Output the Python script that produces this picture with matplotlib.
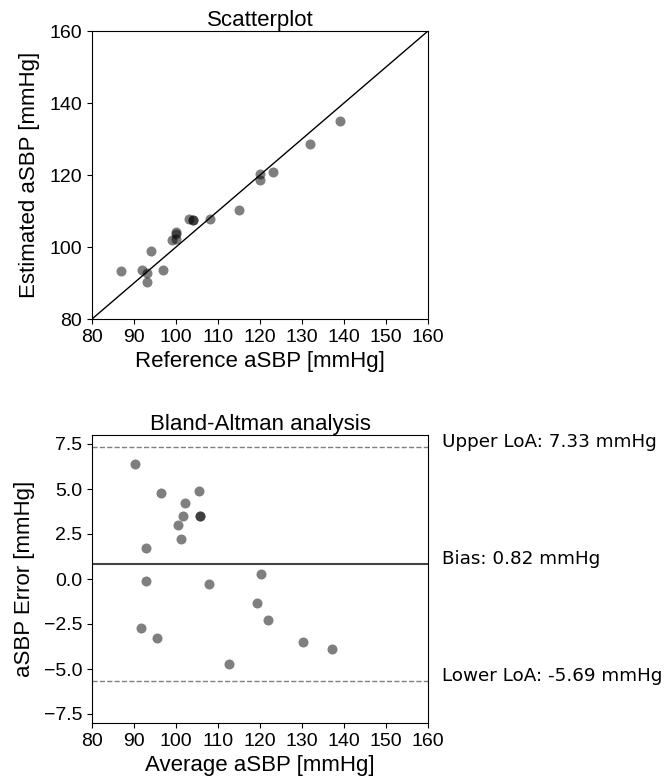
import numpy as np
import matplotlib
matplotlib.use("Agg")
import matplotlib.pyplot as plt

# reference vs estimated aortic SBP (mmHg), read off the scatterplot
REF = [87, 92, 93, 93, 94, 97, 99, 100, 100, 100,
       103, 104, 104, 108, 115, 120, 120, 123, 132, 139]
EST = [93.4, 93.7, 92.9, 90.3, 98.8, 93.75, 102.0, 102.2, 103.5, 104.2,
       107.9, 107.5, 107.5, 107.7, 110.3, 120.3, 118.65, 120.7, 128.5, 135.1]

BIAS = 0.82
UPPER_LOA = 7.33
LOWER_LOA = -5.69

XTICKS = [80, 90, 100, 110, 120, 130, 140, 150, 160]
YTICKS_TOP = [80, 100, 120, 140, 160]
YTICKS_BA = [-7.5, -5.0, -2.5, 0.0, 2.5, 5.0, 7.5]

plt.rcParams["font.family"] = ["Liberation Sans", "DejaVu Sans"]

W, H = 668, 778
fig = plt.figure(figsize=(W / 100, H / 100), dpi=100)


def px_axes(left, top, right, bottom):
    return fig.add_axes([left / W, 1 - bottom / H, (right - left) / W, (bottom - top) / H])


ref = np.array(REF)
est = np.array(EST)
avg = (ref + est) / 2
diff = est - ref

# --- scatterplot ---
ax1 = px_axes(92, 31, 428, 319)
ax1.scatter(ref, est, s=52, c="k", alpha=0.5, linewidths=0)
ax1.plot([80, 160], [80, 160], color="k", lw=1)
ax1.set_xlim(80, 160)
ax1.set_ylim(80, 160)
ax1.set_xticks(XTICKS)
ax1.set_yticks(YTICKS_TOP)
ax1.tick_params(labelsize=14)
ax1.set_title("Scatterplot", fontsize=16, pad=3)
ax1.set_xlabel("Reference aSBP [mmHg]", fontsize=16)
ax1.set_ylabel("Estimated aSBP [mmHg]", fontsize=16, labelpad=7)

# --- Bland-Altman ---
ax2 = px_axes(92, 435, 428, 723)
ax2.scatter(avg, diff, s=52, c="k", alpha=0.5, linewidths=0)
ax2.axhline(BIAS, color="#444444", lw=1.5)
ax2.axhline(UPPER_LOA, color="gray", lw=1, ls="--")
ax2.axhline(LOWER_LOA, color="gray", lw=1, ls="--")
ax2.set_xlim(80, 160)
ax2.set_ylim(-8, 8)
ax2.set_xticks(XTICKS)
ax2.set_yticks(YTICKS_BA)
ax2.tick_params(labelsize=14)
ax2.set_title("Bland-Altman analysis", fontsize=16, pad=3)
ax2.set_xlabel("Average aSBP [mmHg]", fontsize=16)
ax2.set_ylabel("aSBP Error [mmHg]", fontsize=16, labelpad=6)

for val, name in [(UPPER_LOA, "Upper LoA"), (BIAS, "Bias"), (LOWER_LOA, "Lower LoA")]:
    ax2.text(163.3, val, f"{name}: {val:.2f} mmHg", fontsize=13.2,
             family="DejaVu Sans", va="baseline", clip_on=False)

fig.savefig("out.png", dpi=100)
